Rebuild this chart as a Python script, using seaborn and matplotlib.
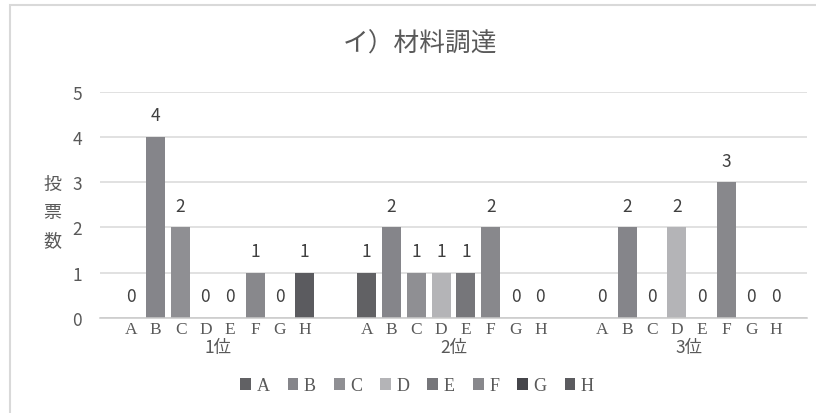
import matplotlib
matplotlib.use("Agg")
import matplotlib.pyplot as plt
import matplotlib.transforms as mtransforms
from matplotlib.patches import Patch, Rectangle
import pandas as pd
import seaborn as sns

# Votes per candidate (A-H) for each rank
ranks = ["1位", "2位", "3位"]
items = ["A", "B", "C", "D", "E", "F", "G", "H"]
votes_1st = [0, 4, 2, 0, 0, 1, 0, 1]
votes_2nd = [1, 2, 1, 1, 1, 2, 0, 0]
votes_3rd = [0, 2, 0, 2, 0, 3, 0, 0]
colors = ["#616164", "#85858a", "#8f8f93", "#b4b4b7",
          "#76767a", "#88888c", "#45454a", "#5b5b5f"]

title = "イ）材料調達"
ylabel = "投\n票\n数"

rows = []
for rank, vals in zip(ranks, [votes_1st, votes_2nd, votes_3rd]):
    for item, v in zip(items, vals):
        rows.append({"rank": rank, "item": item, "votes": v})
df = pd.DataFrame(rows)

sns.set_theme(style="white")
plt.rcParams["font.family"] = ["Noto Sans CJK JP", "DejaVu Sans"]

TEXT = "#595959"
fig = plt.figure(figsize=(8.16, 4.14), dpi=100)
ax = fig.add_axes([100 / 816, 1 - 319 / 414, 707 / 816, 226.5 / 414])

sns.barplot(data=df, x="rank", y="votes", hue="item", hue_order=items,
            order=ranks, palette=colors, saturation=1, width=0.843, gap=0.235,
            dodge=True, linewidth=0, legend=False, ax=ax)

ax.set_ylim(0, 5)
ax.set_xlim(-0.5, 2.5)
ax.set_yticks(range(6))
ax.yaxis.grid(True, color="#d9d9d9", linewidth=1.1)
ax.set_axisbelow(True)
for side in ["top", "right", "left"]:
    ax.spines[side].set_visible(False)
ax.spines["bottom"].set_color("#c9c9c9")
ax.spines["bottom"].set_linewidth(1.1)
ax.tick_params(axis="y", length=0, pad=13, labelsize=12.5, labelcolor=TEXT)
ax.set_xlabel("")
ax.set_ylabel("")

# value labels above each bar
for cont in ax.containers:
    ax.bar_label(cont, fmt="%d", padding=9, fontsize=12.5, color="#404040")

# per-bar item letters as major ticks, group separators as minor ticks
centers, letters = [], []
for item, cont in zip(items, ax.containers):
    for bar in cont:
        centers.append(bar.get_x() + bar.get_width() / 2)
        letters.append(item)
ax.set_xticks(centers, labels=letters)
ax.tick_params(axis="x", which="major", length=0, pad=2, labelsize=12.5,
               labelcolor=TEXT)
for lab in ax.get_xticklabels():
    lab.set_fontfamily("Liberation Serif")
ax.set_xticks([-0.5, 0.5, 1.5, 2.5], minor=True)
ax.tick_params(axis="x", which="minor", length=5, width=1.1, color="#c9c9c9")

trans = mtransforms.blended_transform_factory(ax.transData, ax.transAxes)
for i, rank in enumerate(ranks):
    ax.text(i, -0.128, rank, transform=trans, ha="center", va="center",
            fontsize=12.5, color=TEXT)

fig.text(420 / 816, 1 - 45 / 414, title, ha="center", va="center",
         fontsize=18.5, color=TEXT)
fig.text(52 / 816, 1 - 213 / 414, ylabel, ha="center", va="center",
         fontsize=13, color=TEXT, linespacing=1.75)

handles = [Patch(facecolor=c, edgecolor="none", label=it)
           for it, c in zip(items, colors)]
leg = fig.legend(handles=handles, loc="center", ncol=8, frameon=False,
                 bbox_to_anchor=(417 / 816, 1 - 387 / 414),
                 handlelength=0.6, handleheight=0.6, handletextpad=0.3,
                 columnspacing=1.0, prop={"family": "Liberation Serif", "size": 13})
for t in leg.get_texts():
    t.set_color(TEXT)

# chart area frame
fig.add_artist(Rectangle((10 / 816, -0.2), 1.2, 1.2 - 6 / 414, fill=False,
                         edgecolor="#d9d9d9", linewidth=1.5,
                         transform=fig.transFigure, clip_on=False))

fig.savefig("out.png", dpi=100)
